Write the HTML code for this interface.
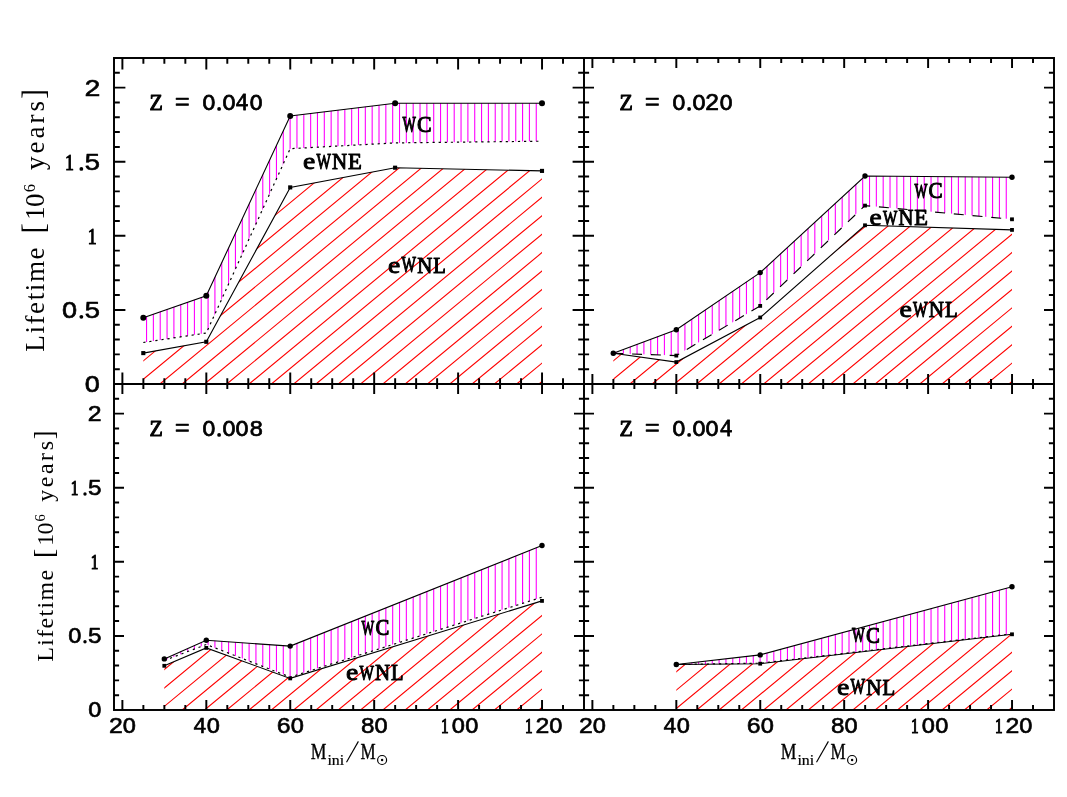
<!DOCTYPE html>
<html><head><meta charset="utf-8"><title>WR lifetimes</title>
<style>html,body{margin:0;padding:0;background:#fff}body{width:1067px;height:797px;overflow:hidden;font-family:"Liberation Serif",serif}svg{display:block}</style>
</head><body>
<svg width="1067" height="797" viewBox="0 0 1067 797">
<rect width="1067" height="797" fill="#fff"/>
<defs>
<clipPath id="cm1"><polygon points="143.3,317.7 206.3,295.7 290.2,116.0 395.1,103.3 542.0,103.3 542.0,141.2 395.1,142.9 290.2,148.7 206.3,333.0 143.3,342.5"/></clipPath>
<clipPath id="cr1"><polygon points="143.3,353.1 206.3,341.8 290.2,187.4 395.1,167.7 542.0,170.9 542.0,384.0 143.3,384.0"/></clipPath>
<clipPath id="cm2"><polygon points="613.3,353.3 676.3,329.7 760.2,272.6 865.0,176.0 1012.0,177.2 1012.0,219.3 865.0,205.6 760.2,305.9 676.3,355.6 613.3,353.3"/></clipPath>
<clipPath id="cr2"><polygon points="613.3,353.3 676.3,362.1 760.2,317.5 865.0,225.3 1012.0,229.9 1012.0,384.0 613.3,384.0"/></clipPath>
<clipPath id="cm3"><polygon points="164.3,658.9 206.3,640.3 290.2,646.1 542.0,545.5 542.0,597.2 290.2,677.1 206.3,644.5 164.3,660.5"/></clipPath>
<clipPath id="cr3"><polygon points="164.3,665.8 206.3,647.9 290.2,678.4 542.0,600.9 542.0,710.0 164.3,710.0"/></clipPath>
<clipPath id="cm4"><polygon points="676.3,664.5 760.2,654.9 1012.0,586.7 1012.0,633.8 760.2,663.2 676.3,664.5"/></clipPath>
<clipPath id="cr4"><polygon points="676.3,664.5 760.2,663.7 1012.0,634.3 1012.0,710.0 676.3,710.0"/></clipPath>
</defs>
<g>
<path clip-path="url(#cr1)" d="M-330.70 384.00L80.92 44.00M-308.40 384.00L103.22 44.00M-286.10 384.00L125.52 44.00M-263.80 384.00L147.82 44.00M-241.50 384.00L170.12 44.00M-219.20 384.00L192.42 44.00M-196.90 384.00L214.72 44.00M-174.60 384.00L237.02 44.00M-152.30 384.00L259.32 44.00M-130.00 384.00L281.62 44.00M-107.70 384.00L303.92 44.00M-85.40 384.00L326.22 44.00M-63.10 384.00L348.52 44.00M-40.80 384.00L370.82 44.00M-18.50 384.00L393.12 44.00M3.80 384.00L415.42 44.00M26.10 384.00L437.72 44.00M48.40 384.00L460.02 44.00M70.70 384.00L482.32 44.00M93.00 384.00L504.62 44.00M115.30 384.00L526.92 44.00M137.60 384.00L549.22 44.00M159.90 384.00L571.52 44.00M182.20 384.00L593.82 44.00M204.50 384.00L616.12 44.00M226.80 384.00L638.42 44.00M249.10 384.00L660.72 44.00M271.40 384.00L683.02 44.00M293.70 384.00L705.32 44.00M316.00 384.00L727.62 44.00M338.30 384.00L749.92 44.00M360.60 384.00L772.22 44.00M382.90 384.00L794.52 44.00M405.20 384.00L816.82 44.00M427.50 384.00L839.12 44.00M449.80 384.00L861.42 44.00M472.10 384.00L883.72 44.00M494.40 384.00L906.02 44.00M516.70 384.00L928.32 44.00M539.00 384.00L950.62 44.00M561.30 384.00L972.92 44.00M583.60 384.00L995.22 44.00M605.90 384.00L1017.52 44.00M628.20 384.00L1039.82 44.00M650.50 384.00L1062.12 44.00" stroke="#ff0000" stroke-width="1.1" fill="none"/>
<path clip-path="url(#cm1)" d="M119.20 58V384M126.04 58V384M132.87 58V384M139.71 58V384M146.55 58V384M153.38 58V384M160.22 58V384M167.06 58V384M173.90 58V384M180.73 58V384M187.57 58V384M194.41 58V384M201.24 58V384M208.08 58V384M214.92 58V384M221.75 58V384M228.59 58V384M235.43 58V384M242.27 58V384M249.10 58V384M255.94 58V384M262.78 58V384M269.61 58V384M276.45 58V384M283.29 58V384M290.12 58V384M296.96 58V384M303.80 58V384M310.64 58V384M317.47 58V384M324.31 58V384M331.15 58V384M337.98 58V384M344.82 58V384M351.66 58V384M358.50 58V384M365.33 58V384M372.17 58V384M379.01 58V384M385.84 58V384M392.68 58V384M399.52 58V384M406.35 58V384M413.19 58V384M420.03 58V384M426.86 58V384M433.70 58V384M440.54 58V384M447.38 58V384M454.21 58V384M461.05 58V384M467.89 58V384M474.72 58V384M481.56 58V384M488.40 58V384M495.23 58V384M502.07 58V384M508.91 58V384M515.75 58V384M522.58 58V384M529.42 58V384M536.26 58V384M543.09 58V384M549.93 58V384M556.77 58V384M563.61 58V384M570.44 58V384M577.28 58V384M584.12 58V384M590.95 58V384" stroke="#ff00ff" stroke-width="1.1" fill="none"/>
<path clip-path="url(#cr2)" d="M139.30 384.00L550.92 44.00M161.60 384.00L573.22 44.00M183.90 384.00L595.52 44.00M206.20 384.00L617.82 44.00M228.50 384.00L640.12 44.00M250.80 384.00L662.42 44.00M273.10 384.00L684.72 44.00M295.40 384.00L707.02 44.00M317.70 384.00L729.32 44.00M340.00 384.00L751.62 44.00M362.30 384.00L773.92 44.00M384.60 384.00L796.22 44.00M406.90 384.00L818.52 44.00M429.20 384.00L840.82 44.00M451.50 384.00L863.12 44.00M473.80 384.00L885.42 44.00M496.10 384.00L907.72 44.00M518.40 384.00L930.02 44.00M540.70 384.00L952.32 44.00M563.00 384.00L974.62 44.00M585.30 384.00L996.92 44.00M607.60 384.00L1019.22 44.00M629.90 384.00L1041.52 44.00M652.20 384.00L1063.82 44.00M674.50 384.00L1086.12 44.00M696.80 384.00L1108.42 44.00M719.10 384.00L1130.72 44.00M741.40 384.00L1153.02 44.00M763.70 384.00L1175.32 44.00M786.00 384.00L1197.62 44.00M808.30 384.00L1219.92 44.00M830.60 384.00L1242.22 44.00M852.90 384.00L1264.52 44.00M875.20 384.00L1286.82 44.00M897.50 384.00L1309.12 44.00M919.80 384.00L1331.42 44.00M942.10 384.00L1353.72 44.00M964.40 384.00L1376.02 44.00M986.70 384.00L1398.32 44.00M1009.00 384.00L1420.62 44.00M1031.30 384.00L1442.92 44.00M1053.60 384.00L1465.22 44.00M1075.90 384.00L1487.52 44.00M1098.20 384.00L1509.82 44.00M1120.50 384.00L1532.12 44.00" stroke="#ff0000" stroke-width="1.1" fill="none"/>
<path clip-path="url(#cm2)" d="M589.20 58V384M596.04 58V384M602.87 58V384M609.71 58V384M616.55 58V384M623.38 58V384M630.22 58V384M637.06 58V384M643.90 58V384M650.73 58V384M657.57 58V384M664.41 58V384M671.24 58V384M678.08 58V384M684.92 58V384M691.75 58V384M698.59 58V384M705.43 58V384M712.27 58V384M719.10 58V384M725.94 58V384M732.78 58V384M739.61 58V384M746.45 58V384M753.29 58V384M760.12 58V384M766.96 58V384M773.80 58V384M780.64 58V384M787.47 58V384M794.31 58V384M801.15 58V384M807.98 58V384M814.82 58V384M821.66 58V384M828.50 58V384M835.33 58V384M842.17 58V384M849.01 58V384M855.84 58V384M862.68 58V384M869.52 58V384M876.35 58V384M883.19 58V384M890.03 58V384M896.87 58V384M903.70 58V384M910.54 58V384M917.38 58V384M924.21 58V384M931.05 58V384M937.89 58V384M944.72 58V384M951.56 58V384M958.40 58V384M965.24 58V384M972.07 58V384M978.91 58V384M985.75 58V384M992.58 58V384M999.42 58V384M1006.26 58V384M1013.09 58V384M1019.93 58V384M1026.77 58V384M1033.61 58V384M1040.44 58V384M1047.28 58V384M1054.12 58V384M1060.95 58V384" stroke="#ff00ff" stroke-width="1.1" fill="none"/>
<path clip-path="url(#cr3)" d="M-330.70 710.00L80.92 370.00M-308.40 710.00L103.22 370.00M-286.10 710.00L125.52 370.00M-263.80 710.00L147.82 370.00M-241.50 710.00L170.12 370.00M-219.20 710.00L192.42 370.00M-196.90 710.00L214.72 370.00M-174.60 710.00L237.02 370.00M-152.30 710.00L259.32 370.00M-130.00 710.00L281.62 370.00M-107.70 710.00L303.92 370.00M-85.40 710.00L326.22 370.00M-63.10 710.00L348.52 370.00M-40.80 710.00L370.82 370.00M-18.50 710.00L393.12 370.00M3.80 710.00L415.42 370.00M26.10 710.00L437.72 370.00M48.40 710.00L460.02 370.00M70.70 710.00L482.32 370.00M93.00 710.00L504.62 370.00M115.30 710.00L526.92 370.00M137.60 710.00L549.22 370.00M159.90 710.00L571.52 370.00M182.20 710.00L593.82 370.00M204.50 710.00L616.12 370.00M226.80 710.00L638.42 370.00M249.10 710.00L660.72 370.00M271.40 710.00L683.02 370.00M293.70 710.00L705.32 370.00M316.00 710.00L727.62 370.00M338.30 710.00L749.92 370.00M360.60 710.00L772.22 370.00M382.90 710.00L794.52 370.00M405.20 710.00L816.82 370.00M427.50 710.00L839.12 370.00M449.80 710.00L861.42 370.00M472.10 710.00L883.72 370.00M494.40 710.00L906.02 370.00M516.70 710.00L928.32 370.00M539.00 710.00L950.62 370.00M561.30 710.00L972.92 370.00M583.60 710.00L995.22 370.00M605.90 710.00L1017.52 370.00M628.20 710.00L1039.82 370.00M650.50 710.00L1062.12 370.00" stroke="#ff0000" stroke-width="1.1" fill="none"/>
<path clip-path="url(#cm3)" d="M119.20 384V710M126.04 384V710M132.87 384V710M139.71 384V710M146.55 384V710M153.38 384V710M160.22 384V710M167.06 384V710M173.90 384V710M180.73 384V710M187.57 384V710M194.41 384V710M201.24 384V710M208.08 384V710M214.92 384V710M221.75 384V710M228.59 384V710M235.43 384V710M242.27 384V710M249.10 384V710M255.94 384V710M262.78 384V710M269.61 384V710M276.45 384V710M283.29 384V710M290.12 384V710M296.96 384V710M303.80 384V710M310.64 384V710M317.47 384V710M324.31 384V710M331.15 384V710M337.98 384V710M344.82 384V710M351.66 384V710M358.50 384V710M365.33 384V710M372.17 384V710M379.01 384V710M385.84 384V710M392.68 384V710M399.52 384V710M406.35 384V710M413.19 384V710M420.03 384V710M426.86 384V710M433.70 384V710M440.54 384V710M447.38 384V710M454.21 384V710M461.05 384V710M467.89 384V710M474.72 384V710M481.56 384V710M488.40 384V710M495.23 384V710M502.07 384V710M508.91 384V710M515.75 384V710M522.58 384V710M529.42 384V710M536.26 384V710M543.09 384V710M549.93 384V710M556.77 384V710M563.61 384V710M570.44 384V710M577.28 384V710M584.12 384V710M590.95 384V710" stroke="#ff00ff" stroke-width="1.1" fill="none"/>
<path clip-path="url(#cr4)" d="M139.30 710.00L550.92 370.00M161.60 710.00L573.22 370.00M183.90 710.00L595.52 370.00M206.20 710.00L617.82 370.00M228.50 710.00L640.12 370.00M250.80 710.00L662.42 370.00M273.10 710.00L684.72 370.00M295.40 710.00L707.02 370.00M317.70 710.00L729.32 370.00M340.00 710.00L751.62 370.00M362.30 710.00L773.92 370.00M384.60 710.00L796.22 370.00M406.90 710.00L818.52 370.00M429.20 710.00L840.82 370.00M451.50 710.00L863.12 370.00M473.80 710.00L885.42 370.00M496.10 710.00L907.72 370.00M518.40 710.00L930.02 370.00M540.70 710.00L952.32 370.00M563.00 710.00L974.62 370.00M585.30 710.00L996.92 370.00M607.60 710.00L1019.22 370.00M629.90 710.00L1041.52 370.00M652.20 710.00L1063.82 370.00M674.50 710.00L1086.12 370.00M696.80 710.00L1108.42 370.00M719.10 710.00L1130.72 370.00M741.40 710.00L1153.02 370.00M763.70 710.00L1175.32 370.00M786.00 710.00L1197.62 370.00M808.30 710.00L1219.92 370.00M830.60 710.00L1242.22 370.00M852.90 710.00L1264.52 370.00M875.20 710.00L1286.82 370.00M897.50 710.00L1309.12 370.00M919.80 710.00L1331.42 370.00M942.10 710.00L1353.72 370.00M964.40 710.00L1376.02 370.00M986.70 710.00L1398.32 370.00M1009.00 710.00L1420.62 370.00M1031.30 710.00L1442.92 370.00M1053.60 710.00L1465.22 370.00M1075.90 710.00L1487.52 370.00M1098.20 710.00L1509.82 370.00M1120.50 710.00L1532.12 370.00" stroke="#ff0000" stroke-width="1.1" fill="none"/>
<path clip-path="url(#cm4)" d="M589.20 384V710M596.04 384V710M602.87 384V710M609.71 384V710M616.55 384V710M623.38 384V710M630.22 384V710M637.06 384V710M643.90 384V710M650.73 384V710M657.57 384V710M664.41 384V710M671.24 384V710M678.08 384V710M684.92 384V710M691.75 384V710M698.59 384V710M705.43 384V710M712.27 384V710M719.10 384V710M725.94 384V710M732.78 384V710M739.61 384V710M746.45 384V710M753.29 384V710M760.12 384V710M766.96 384V710M773.80 384V710M780.64 384V710M787.47 384V710M794.31 384V710M801.15 384V710M807.98 384V710M814.82 384V710M821.66 384V710M828.50 384V710M835.33 384V710M842.17 384V710M849.01 384V710M855.84 384V710M862.68 384V710M869.52 384V710M876.35 384V710M883.19 384V710M890.03 384V710M896.87 384V710M903.70 384V710M910.54 384V710M917.38 384V710M924.21 384V710M931.05 384V710M937.89 384V710M944.72 384V710M951.56 384V710M958.40 384V710M965.24 384V710M972.07 384V710M978.91 384V710M985.75 384V710M992.58 384V710M999.42 384V710M1006.26 384V710M1013.09 384V710M1019.93 384V710M1026.77 384V710M1033.61 384V710M1040.44 384V710M1047.28 384V710M1054.12 384V710M1060.95 384V710" stroke="#ff00ff" stroke-width="1.1" fill="none"/>
<polyline points="143.3,353.1 206.3,341.8 290.2,187.4 395.1,167.7 542.0,170.9" fill="none" stroke="#000" stroke-width="1.1"/>
<polyline points="143.3,342.5 206.3,333.0 290.2,148.7 395.1,142.9 542.0,141.2" fill="none" stroke="#000" stroke-width="1.2" stroke-dasharray="2.2 3.9"/>
<polyline points="143.3,317.7 206.3,295.7 290.2,116.0 395.1,103.3 542.0,103.3" fill="none" stroke="#000" stroke-width="1.1"/>
<circle cx="143.3" cy="317.7" r="3.0"/>
<circle cx="206.3" cy="295.7" r="3.0"/>
<circle cx="290.2" cy="116.0" r="3.0"/>
<circle cx="395.1" cy="103.3" r="3.0"/>
<circle cx="542.0" cy="103.3" r="3.0"/>
<rect x="141.25" y="351.05" width="4.1" height="4.1"/>
<rect x="204.25" y="339.75" width="4.1" height="4.1"/>
<rect x="288.15" y="185.35" width="4.1" height="4.1"/>
<rect x="393.05" y="165.65" width="4.1" height="4.1"/>
<rect x="539.95" y="168.85" width="4.1" height="4.1"/>
<polyline points="613.3,353.3 676.3,362.1 760.2,317.5 865.0,225.3 1012.0,229.9" fill="none" stroke="#000" stroke-width="1.1"/>
<polyline points="613.3,353.3 676.3,355.6 760.2,305.9 865.0,205.6 1012.0,219.3" fill="none" stroke="#000" stroke-width="1.1" stroke-dasharray="10 8.8" stroke-dashoffset="0"/>
<polyline points="613.3,353.3 676.3,329.7 760.2,272.6 865.0,176.0 1012.0,177.2" fill="none" stroke="#000" stroke-width="1.1"/>
<circle cx="613.3" cy="353.3" r="2.7"/>
<circle cx="676.3" cy="329.7" r="2.7"/>
<circle cx="760.2" cy="272.6" r="2.7"/>
<circle cx="865.0" cy="176.0" r="2.7"/>
<circle cx="1012.0" cy="177.2" r="2.7"/>
<rect x="611.40" y="351.40" width="3.8" height="3.8"/>
<rect x="674.40" y="360.20" width="3.8" height="3.8"/>
<rect x="758.30" y="315.60" width="3.8" height="3.8"/>
<rect x="863.10" y="223.40" width="3.8" height="3.8"/>
<rect x="1010.10" y="228.00" width="3.8" height="3.8"/>
<rect x="674.40" y="353.70" width="3.8" height="3.8"/>
<rect x="758.30" y="304.00" width="3.8" height="3.8"/>
<rect x="863.10" y="203.70" width="3.8" height="3.8"/>
<rect x="1010.10" y="217.40" width="3.8" height="3.8"/>
<polyline points="164.3,665.8 206.3,647.9 290.2,678.4 542.0,600.9" fill="none" stroke="#000" stroke-width="1.1"/>
<polyline points="164.3,660.5 206.3,644.5 290.2,677.1 542.0,597.2" fill="none" stroke="#000" stroke-width="1.2" stroke-dasharray="2.2 3.9"/>
<polyline points="164.3,658.9 206.3,640.3 290.2,646.1 542.0,545.5" fill="none" stroke="#000" stroke-width="1.1"/>
<circle cx="164.3" cy="658.9" r="2.7"/>
<circle cx="206.3" cy="640.3" r="2.7"/>
<circle cx="290.2" cy="646.1" r="2.7"/>
<circle cx="542.0" cy="545.5" r="2.7"/>
<rect x="162.40" y="663.90" width="3.8" height="3.8"/>
<rect x="204.40" y="646.00" width="3.8" height="3.8"/>
<rect x="288.30" y="676.50" width="3.8" height="3.8"/>
<rect x="540.10" y="599.00" width="3.8" height="3.8"/>
<polyline points="676.3,664.5 760.2,663.7 1012.0,634.3" fill="none" stroke="#000" stroke-width="1.1"/>
<polyline points="676.3,664.5 760.2,663.2 1012.0,633.8" fill="none" stroke="#000" stroke-width="1.2" stroke-dasharray="2.2 3.9"/>
<polyline points="676.3,664.5 760.2,654.9 1012.0,586.7" fill="none" stroke="#000" stroke-width="1.1"/>
<circle cx="676.3" cy="664.5" r="2.7"/>
<circle cx="760.2" cy="654.9" r="2.7"/>
<circle cx="1012.0" cy="586.7" r="2.7"/>
<rect x="674.40" y="662.60" width="3.8" height="3.8"/>
<rect x="758.30" y="661.80" width="3.8" height="3.8"/>
<rect x="1010.10" y="632.40" width="3.8" height="3.8"/>
</g>
<g>
<rect x="114.0" y="58.0" width="940.0" height="652.0" fill="none" stroke="#000" stroke-width="1.95"/>
<path d="M584.0 58.0V710.0M114.0 384.0H1054.0" stroke="#000" stroke-width="1.95" fill="none"/>
<path d="M122.39 384.0v-11.4M122.39 58.0v11.4M143.38 384.0v-5.8M143.38 58.0v5.8M164.36 384.0v-5.8M164.36 58.0v5.8M185.34 384.0v-5.8M185.34 58.0v5.8M206.32 384.0v-11.4M206.32 58.0v11.4M227.30 384.0v-5.8M227.30 58.0v5.8M248.29 384.0v-5.8M248.29 58.0v5.8M269.27 384.0v-5.8M269.27 58.0v5.8M290.25 384.0v-11.4M290.25 58.0v11.4M311.23 384.0v-5.8M311.23 58.0v5.8M332.21 384.0v-5.8M332.21 58.0v5.8M353.20 384.0v-5.8M353.20 58.0v5.8M374.18 384.0v-11.4M374.18 58.0v11.4M395.16 384.0v-5.8M395.16 58.0v5.8M416.14 384.0v-5.8M416.14 58.0v5.8M437.12 384.0v-5.8M437.12 58.0v5.8M458.11 384.0v-11.4M458.11 58.0v11.4M479.09 384.0v-5.8M479.09 58.0v5.8M500.07 384.0v-5.8M500.07 58.0v5.8M521.05 384.0v-5.8M521.05 58.0v5.8M542.04 384.0v-11.4M542.04 58.0v11.4M563.02 384.0v-5.8M563.02 58.0v5.8M114.0 369.18h5.8M584.0 369.18h-5.8M114.0 354.36h5.8M584.0 354.36h-5.8M114.0 339.55h5.8M584.0 339.55h-5.8M114.0 324.73h5.8M584.0 324.73h-5.8M114.0 309.91h11.4M584.0 309.91h-11.4M114.0 295.09h5.8M584.0 295.09h-5.8M114.0 280.27h5.8M584.0 280.27h-5.8M114.0 265.45h5.8M584.0 265.45h-5.8M114.0 250.64h5.8M584.0 250.64h-5.8M114.0 235.82h11.4M584.0 235.82h-11.4M114.0 221.00h5.8M584.0 221.00h-5.8M114.0 206.18h5.8M584.0 206.18h-5.8M114.0 191.36h5.8M584.0 191.36h-5.8M114.0 176.55h5.8M584.0 176.55h-5.8M114.0 161.73h11.4M584.0 161.73h-11.4M114.0 146.91h5.8M584.0 146.91h-5.8M114.0 132.09h5.8M584.0 132.09h-5.8M114.0 117.27h5.8M584.0 117.27h-5.8M114.0 102.45h5.8M584.0 102.45h-5.8M114.0 87.64h11.4M584.0 87.64h-11.4M114.0 72.82h5.8M584.0 72.82h-5.8M592.39 384.0v-10M592.39 58.0v10M613.38 384.0v-5.1M613.38 58.0v5.1M634.36 384.0v-5.1M634.36 58.0v5.1M655.34 384.0v-5.1M655.34 58.0v5.1M676.32 384.0v-10M676.32 58.0v10M697.30 384.0v-5.1M697.30 58.0v5.1M718.29 384.0v-5.1M718.29 58.0v5.1M739.27 384.0v-5.1M739.27 58.0v5.1M760.25 384.0v-10M760.25 58.0v10M781.23 384.0v-5.1M781.23 58.0v5.1M802.21 384.0v-5.1M802.21 58.0v5.1M823.20 384.0v-5.1M823.20 58.0v5.1M844.18 384.0v-10M844.18 58.0v10M865.16 384.0v-5.1M865.16 58.0v5.1M886.14 384.0v-5.1M886.14 58.0v5.1M907.12 384.0v-5.1M907.12 58.0v5.1M928.11 384.0v-10M928.11 58.0v10M949.09 384.0v-5.1M949.09 58.0v5.1M970.07 384.0v-5.1M970.07 58.0v5.1M991.05 384.0v-5.1M991.05 58.0v5.1M1012.04 384.0v-10M1012.04 58.0v10M1033.02 384.0v-5.1M1033.02 58.0v5.1M584.0 369.18h5.1M1054.0 369.18h-5.1M584.0 354.36h5.1M1054.0 354.36h-5.1M584.0 339.55h5.1M1054.0 339.55h-5.1M584.0 324.73h5.1M1054.0 324.73h-5.1M584.0 309.91h10M1054.0 309.91h-10M584.0 295.09h5.1M1054.0 295.09h-5.1M584.0 280.27h5.1M1054.0 280.27h-5.1M584.0 265.45h5.1M1054.0 265.45h-5.1M584.0 250.64h5.1M1054.0 250.64h-5.1M584.0 235.82h10M1054.0 235.82h-10M584.0 221.00h5.1M1054.0 221.00h-5.1M584.0 206.18h5.1M1054.0 206.18h-5.1M584.0 191.36h5.1M1054.0 191.36h-5.1M584.0 176.55h5.1M1054.0 176.55h-5.1M584.0 161.73h10M1054.0 161.73h-10M584.0 146.91h5.1M1054.0 146.91h-5.1M584.0 132.09h5.1M1054.0 132.09h-5.1M584.0 117.27h5.1M1054.0 117.27h-5.1M584.0 102.45h5.1M1054.0 102.45h-5.1M584.0 87.64h10M1054.0 87.64h-10M584.0 72.82h5.1M1054.0 72.82h-5.1M122.39 710.0v-10M122.39 384.0v10M143.38 710.0v-5.1M143.38 384.0v5.1M164.36 710.0v-5.1M164.36 384.0v5.1M185.34 710.0v-5.1M185.34 384.0v5.1M206.32 710.0v-10M206.32 384.0v10M227.30 710.0v-5.1M227.30 384.0v5.1M248.29 710.0v-5.1M248.29 384.0v5.1M269.27 710.0v-5.1M269.27 384.0v5.1M290.25 710.0v-10M290.25 384.0v10M311.23 710.0v-5.1M311.23 384.0v5.1M332.21 710.0v-5.1M332.21 384.0v5.1M353.20 710.0v-5.1M353.20 384.0v5.1M374.18 710.0v-10M374.18 384.0v10M395.16 710.0v-5.1M395.16 384.0v5.1M416.14 710.0v-5.1M416.14 384.0v5.1M437.12 710.0v-5.1M437.12 384.0v5.1M458.11 710.0v-10M458.11 384.0v10M479.09 710.0v-5.1M479.09 384.0v5.1M500.07 710.0v-5.1M500.07 384.0v5.1M521.05 710.0v-5.1M521.05 384.0v5.1M542.04 710.0v-10M542.04 384.0v10M563.02 710.0v-5.1M563.02 384.0v5.1M114.0 695.18h5.1M584.0 695.18h-5.1M114.0 680.36h5.1M584.0 680.36h-5.1M114.0 665.55h5.1M584.0 665.55h-5.1M114.0 650.73h5.1M584.0 650.73h-5.1M114.0 635.91h10M584.0 635.91h-10M114.0 621.09h5.1M584.0 621.09h-5.1M114.0 606.27h5.1M584.0 606.27h-5.1M114.0 591.45h5.1M584.0 591.45h-5.1M114.0 576.64h5.1M584.0 576.64h-5.1M114.0 561.82h10M584.0 561.82h-10M114.0 547.00h5.1M584.0 547.00h-5.1M114.0 532.18h5.1M584.0 532.18h-5.1M114.0 517.36h5.1M584.0 517.36h-5.1M114.0 502.55h5.1M584.0 502.55h-5.1M114.0 487.73h10M584.0 487.73h-10M114.0 472.91h5.1M584.0 472.91h-5.1M114.0 458.09h5.1M584.0 458.09h-5.1M114.0 443.27h5.1M584.0 443.27h-5.1M114.0 428.45h5.1M584.0 428.45h-5.1M114.0 413.64h10M584.0 413.64h-10M114.0 398.82h5.1M584.0 398.82h-5.1M592.39 710.0v-10M592.39 384.0v10M613.38 710.0v-5.1M613.38 384.0v5.1M634.36 710.0v-5.1M634.36 384.0v5.1M655.34 710.0v-5.1M655.34 384.0v5.1M676.32 710.0v-10M676.32 384.0v10M697.30 710.0v-5.1M697.30 384.0v5.1M718.29 710.0v-5.1M718.29 384.0v5.1M739.27 710.0v-5.1M739.27 384.0v5.1M760.25 710.0v-10M760.25 384.0v10M781.23 710.0v-5.1M781.23 384.0v5.1M802.21 710.0v-5.1M802.21 384.0v5.1M823.20 710.0v-5.1M823.20 384.0v5.1M844.18 710.0v-10M844.18 384.0v10M865.16 710.0v-5.1M865.16 384.0v5.1M886.14 710.0v-5.1M886.14 384.0v5.1M907.12 710.0v-5.1M907.12 384.0v5.1M928.11 710.0v-10M928.11 384.0v10M949.09 710.0v-5.1M949.09 384.0v5.1M970.07 710.0v-5.1M970.07 384.0v5.1M991.05 710.0v-5.1M991.05 384.0v5.1M1012.04 710.0v-10M1012.04 384.0v10M1033.02 710.0v-5.1M1033.02 384.0v5.1M584.0 695.18h5.1M1054.0 695.18h-5.1M584.0 680.36h5.1M1054.0 680.36h-5.1M584.0 665.55h5.1M1054.0 665.55h-5.1M584.0 650.73h5.1M1054.0 650.73h-5.1M584.0 635.91h10M1054.0 635.91h-10M584.0 621.09h5.1M1054.0 621.09h-5.1M584.0 606.27h5.1M1054.0 606.27h-5.1M584.0 591.45h5.1M1054.0 591.45h-5.1M584.0 576.64h5.1M1054.0 576.64h-5.1M584.0 561.82h10M1054.0 561.82h-10M584.0 547.00h5.1M1054.0 547.00h-5.1M584.0 532.18h5.1M1054.0 532.18h-5.1M584.0 517.36h5.1M1054.0 517.36h-5.1M584.0 502.55h5.1M1054.0 502.55h-5.1M584.0 487.73h10M1054.0 487.73h-10M584.0 472.91h5.1M1054.0 472.91h-5.1M584.0 458.09h5.1M1054.0 458.09h-5.1M584.0 443.27h5.1M1054.0 443.27h-5.1M584.0 428.45h5.1M1054.0 428.45h-5.1M584.0 413.64h10M1054.0 413.64h-10M584.0 398.82h5.1M1054.0 398.82h-5.1" stroke="#000" stroke-width="1.95" fill="none"/>
</g>
<g opacity="0.999">
<text transform="matrix(1.1647 0 0 1 83.90 95.97)" font-family="Liberation Mono" font-weight="normal" font-size="24.25" fill="#000" stroke="#000" stroke-width="0.65" vector-effect="non-scaling-stroke" stroke-linejoin="round">2</text>
<text transform="matrix(0.7503 0 0 1 64.92 170.12)" font-family="Liberation Serif" font-weight="normal" font-size="23.71" fill="#000" stroke="#000" stroke-width="1.05" vector-effect="non-scaling-stroke" stroke-linejoin="round">1</text>
<circle cx="81.35" cy="168.93" r="1.93"/>
<text transform="matrix(1.1399 0 0 1 84.08 170.18)" font-family="Liberation Mono" font-weight="normal" font-size="24.25" fill="#000" stroke="#000" stroke-width="0.65" vector-effect="non-scaling-stroke" stroke-linejoin="round">5</text>
<text transform="matrix(0.7503 0 0 1 87.66 244.22)" font-family="Liberation Serif" font-weight="normal" font-size="23.71" fill="#000" stroke="#000" stroke-width="1.05" vector-effect="non-scaling-stroke" stroke-linejoin="round">1</text>
<text transform="matrix(1.0875 0 0 1 61.84 318.09)" font-family="Liberation Mono" font-weight="normal" font-size="23.90" fill="#000" stroke="#000" stroke-width="0.65" vector-effect="non-scaling-stroke" stroke-linejoin="round">O</text>
<circle cx="81.35" cy="316.83" r="1.93"/>
<text transform="matrix(1.1399 0 0 1 84.08 318.08)" font-family="Liberation Mono" font-weight="normal" font-size="24.25" fill="#000" stroke="#000" stroke-width="0.65" vector-effect="non-scaling-stroke" stroke-linejoin="round">5</text>
<text transform="matrix(1.0875 0 0 1 84.58 391.99)" font-family="Liberation Mono" font-weight="normal" font-size="23.90" fill="#000" stroke="#000" stroke-width="0.65" vector-effect="non-scaling-stroke" stroke-linejoin="round">O</text>
<text transform="matrix(1.1284 0 0 1 87.30 421.02)" font-family="Liberation Mono" font-weight="normal" font-size="21.87" fill="#000" stroke="#000" stroke-width="0.65" vector-effect="non-scaling-stroke" stroke-linejoin="round">2</text>
<text transform="matrix(0.7180 0 0 1 70.65 495.02)" font-family="Liberation Serif" font-weight="normal" font-size="21.29" fill="#000" stroke="#000" stroke-width="1.05" vector-effect="non-scaling-stroke" stroke-linejoin="round">1</text>
<circle cx="85.00" cy="494.05" r="1.70"/>
<text transform="matrix(1.1044 0 0 1 87.46 495.11)" font-family="Liberation Mono" font-weight="normal" font-size="21.87" fill="#000" stroke="#000" stroke-width="0.65" vector-effect="non-scaling-stroke" stroke-linejoin="round">5</text>
<text transform="matrix(0.7180 0 0 1 90.65 569.02)" font-family="Liberation Serif" font-weight="normal" font-size="21.29" fill="#000" stroke="#000" stroke-width="1.05" vector-effect="non-scaling-stroke" stroke-linejoin="round">1</text>
<text transform="matrix(1.0537 0 0 1 67.89 642.81)" font-family="Liberation Mono" font-weight="normal" font-size="21.54" fill="#000" stroke="#000" stroke-width="0.65" vector-effect="non-scaling-stroke" stroke-linejoin="round">O</text>
<circle cx="85.00" cy="641.75" r="1.70"/>
<text transform="matrix(1.1044 0 0 1 87.46 642.81)" font-family="Liberation Mono" font-weight="normal" font-size="21.87" fill="#000" stroke="#000" stroke-width="0.65" vector-effect="non-scaling-stroke" stroke-linejoin="round">5</text>
<text transform="matrix(1.0537 0 0 1 87.89 717.11)" font-family="Liberation Mono" font-weight="normal" font-size="21.54" fill="#000" stroke="#000" stroke-width="0.65" vector-effect="non-scaling-stroke" stroke-linejoin="round">O</text>
<text transform="matrix(1.0984 0 0 1 108.59 732.88)" font-family="Liberation Mono" font-weight="normal" font-size="22.46" fill="#000" stroke="#000" stroke-width="0.65" vector-effect="non-scaling-stroke" stroke-linejoin="round">2</text>
<text transform="matrix(1.0256 0 0 1 122.58 732.65)" font-family="Liberation Mono" font-weight="normal" font-size="22.13" fill="#000" stroke="#000" stroke-width="0.65" vector-effect="non-scaling-stroke" stroke-linejoin="round">O</text>
<text transform="matrix(0.9955 0 0 1 193.11 732.88)" font-family="Liberation Mono" font-weight="normal" font-size="22.80" fill="#000" stroke="#000" stroke-width="0.65" vector-effect="non-scaling-stroke" stroke-linejoin="round">4</text>
<text transform="matrix(1.0256 0 0 1 206.51 732.65)" font-family="Liberation Mono" font-weight="normal" font-size="22.13" fill="#000" stroke="#000" stroke-width="0.65" vector-effect="non-scaling-stroke" stroke-linejoin="round">O</text>
<text transform="matrix(1.1148 0 0 1 276.32 732.65)" font-family="Liberation Mono" font-weight="normal" font-size="22.13" fill="#000" stroke="#000" stroke-width="0.65" vector-effect="non-scaling-stroke" stroke-linejoin="round">6</text>
<text transform="matrix(1.0256 0 0 1 290.44 732.65)" font-family="Liberation Mono" font-weight="normal" font-size="22.13" fill="#000" stroke="#000" stroke-width="0.65" vector-effect="non-scaling-stroke" stroke-linejoin="round">O</text>
<text transform="matrix(1.0911 0 0 1 360.53 732.65)" font-family="Liberation Mono" font-weight="normal" font-size="22.13" fill="#000" stroke="#000" stroke-width="0.65" vector-effect="non-scaling-stroke" stroke-linejoin="round">8</text>
<text transform="matrix(1.0256 0 0 1 374.37 732.65)" font-family="Liberation Mono" font-weight="normal" font-size="22.13" fill="#000" stroke="#000" stroke-width="0.65" vector-effect="non-scaling-stroke" stroke-linejoin="round">O</text>
<text transform="matrix(0.6982 0 0 1 440.96 732.58)" font-family="Liberation Serif" font-weight="normal" font-size="21.89" fill="#000" stroke="#000" stroke-width="1.05" vector-effect="non-scaling-stroke" stroke-linejoin="round">1</text>
<text transform="matrix(1.0256 0 0 1 451.60 732.65)" font-family="Liberation Mono" font-weight="normal" font-size="22.13" fill="#000" stroke="#000" stroke-width="0.65" vector-effect="non-scaling-stroke" stroke-linejoin="round">O</text>
<text transform="matrix(1.0256 0 0 1 465.00 732.65)" font-family="Liberation Mono" font-weight="normal" font-size="22.13" fill="#000" stroke="#000" stroke-width="0.65" vector-effect="non-scaling-stroke" stroke-linejoin="round">O</text>
<text transform="matrix(0.6982 0 0 1 524.88 732.58)" font-family="Liberation Serif" font-weight="normal" font-size="21.89" fill="#000" stroke="#000" stroke-width="1.05" vector-effect="non-scaling-stroke" stroke-linejoin="round">1</text>
<text transform="matrix(1.0984 0 0 1 534.93 732.88)" font-family="Liberation Mono" font-weight="normal" font-size="22.46" fill="#000" stroke="#000" stroke-width="0.65" vector-effect="non-scaling-stroke" stroke-linejoin="round">2</text>
<text transform="matrix(1.0256 0 0 1 548.93 732.65)" font-family="Liberation Mono" font-weight="normal" font-size="22.13" fill="#000" stroke="#000" stroke-width="0.65" vector-effect="non-scaling-stroke" stroke-linejoin="round">O</text>
<text transform="matrix(1.0984 0 0 1 578.59 732.88)" font-family="Liberation Mono" font-weight="normal" font-size="22.46" fill="#000" stroke="#000" stroke-width="0.65" vector-effect="non-scaling-stroke" stroke-linejoin="round">2</text>
<text transform="matrix(1.0256 0 0 1 592.58 732.65)" font-family="Liberation Mono" font-weight="normal" font-size="22.13" fill="#000" stroke="#000" stroke-width="0.65" vector-effect="non-scaling-stroke" stroke-linejoin="round">O</text>
<text transform="matrix(0.9955 0 0 1 663.11 732.88)" font-family="Liberation Mono" font-weight="normal" font-size="22.80" fill="#000" stroke="#000" stroke-width="0.65" vector-effect="non-scaling-stroke" stroke-linejoin="round">4</text>
<text transform="matrix(1.0256 0 0 1 676.51 732.65)" font-family="Liberation Mono" font-weight="normal" font-size="22.13" fill="#000" stroke="#000" stroke-width="0.65" vector-effect="non-scaling-stroke" stroke-linejoin="round">O</text>
<text transform="matrix(1.1148 0 0 1 746.32 732.65)" font-family="Liberation Mono" font-weight="normal" font-size="22.13" fill="#000" stroke="#000" stroke-width="0.65" vector-effect="non-scaling-stroke" stroke-linejoin="round">6</text>
<text transform="matrix(1.0256 0 0 1 760.44 732.65)" font-family="Liberation Mono" font-weight="normal" font-size="22.13" fill="#000" stroke="#000" stroke-width="0.65" vector-effect="non-scaling-stroke" stroke-linejoin="round">O</text>
<text transform="matrix(1.0911 0 0 1 830.53 732.65)" font-family="Liberation Mono" font-weight="normal" font-size="22.13" fill="#000" stroke="#000" stroke-width="0.65" vector-effect="non-scaling-stroke" stroke-linejoin="round">8</text>
<text transform="matrix(1.0256 0 0 1 844.37 732.65)" font-family="Liberation Mono" font-weight="normal" font-size="22.13" fill="#000" stroke="#000" stroke-width="0.65" vector-effect="non-scaling-stroke" stroke-linejoin="round">O</text>
<text transform="matrix(0.6982 0 0 1 910.96 732.58)" font-family="Liberation Serif" font-weight="normal" font-size="21.89" fill="#000" stroke="#000" stroke-width="1.05" vector-effect="non-scaling-stroke" stroke-linejoin="round">1</text>
<text transform="matrix(1.0256 0 0 1 921.60 732.65)" font-family="Liberation Mono" font-weight="normal" font-size="22.13" fill="#000" stroke="#000" stroke-width="0.65" vector-effect="non-scaling-stroke" stroke-linejoin="round">O</text>
<text transform="matrix(1.0256 0 0 1 935.00 732.65)" font-family="Liberation Mono" font-weight="normal" font-size="22.13" fill="#000" stroke="#000" stroke-width="0.65" vector-effect="non-scaling-stroke" stroke-linejoin="round">O</text>
<text transform="matrix(0.6982 0 0 1 994.88 732.58)" font-family="Liberation Serif" font-weight="normal" font-size="21.89" fill="#000" stroke="#000" stroke-width="1.05" vector-effect="non-scaling-stroke" stroke-linejoin="round">1</text>
<text transform="matrix(1.0984 0 0 1 1004.93 732.88)" font-family="Liberation Mono" font-weight="normal" font-size="22.46" fill="#000" stroke="#000" stroke-width="0.65" vector-effect="non-scaling-stroke" stroke-linejoin="round">2</text>
<text transform="matrix(1.0256 0 0 1 1018.93 732.65)" font-family="Liberation Mono" font-weight="normal" font-size="22.13" fill="#000" stroke="#000" stroke-width="0.65" vector-effect="non-scaling-stroke" stroke-linejoin="round">O</text>
<text transform="matrix(0.7532 0 0 1 310.85 758.73)" font-family="Liberation Serif" font-weight="normal" font-size="23.44" fill="#000" stroke="#000" stroke-width="0.35" vector-effect="non-scaling-stroke" stroke-linejoin="round">M</text>
<text transform="matrix(1.1421 0 0 1 327.41 764.67)" font-family="Liberation Serif" font-weight="normal" font-size="13.86" fill="#000" stroke="#000" stroke-width="0.25" vector-effect="non-scaling-stroke" stroke-linejoin="round">ini</text>
<path d="M346.5 762.3L358.4 741.4" stroke="#000" stroke-width="1.15" fill="none"/>
<text transform="matrix(0.7275 0 0 1 360.56 758.73)" font-family="Liberation Serif" font-weight="normal" font-size="23.44" fill="#000" stroke="#000" stroke-width="0.35" vector-effect="non-scaling-stroke" stroke-linejoin="round">M</text>
<circle cx="382.1" cy="760" r="4.5" fill="none" stroke="#000" stroke-width="1.2"/><circle cx="382.1" cy="760" r="1.2"/>
<text transform="matrix(0.7532 0 0 1 780.85 758.73)" font-family="Liberation Serif" font-weight="normal" font-size="23.44" fill="#000" stroke="#000" stroke-width="0.35" vector-effect="non-scaling-stroke" stroke-linejoin="round">M</text>
<text transform="matrix(1.1421 0 0 1 797.41 764.67)" font-family="Liberation Serif" font-weight="normal" font-size="13.86" fill="#000" stroke="#000" stroke-width="0.25" vector-effect="non-scaling-stroke" stroke-linejoin="round">ini</text>
<path d="M816.5 762.3L828.4 741.4" stroke="#000" stroke-width="1.15" fill="none"/>
<text transform="matrix(0.7275 0 0 1 830.56 758.73)" font-family="Liberation Serif" font-weight="normal" font-size="23.44" fill="#000" stroke="#000" stroke-width="0.35" vector-effect="non-scaling-stroke" stroke-linejoin="round">M</text>
<circle cx="852.1" cy="760" r="4.5" fill="none" stroke="#000" stroke-width="1.2"/><circle cx="852.1" cy="760" r="1.2"/>
<g transform="translate(52.5 661) rotate(-90) scale(1.0)">
<text transform="matrix(1.0000 0 0 1 -0.72 0.00)" font-family="Liberation Serif" font-weight="normal" font-size="23.90" fill="#000" letter-spacing="1.36">Lifetime</text>
<text transform="matrix(1.0039 0 0 1 103.09 0.21)" font-family="Liberation Serif" font-weight="normal" font-size="28.07" fill="#000">[</text>
<text transform="matrix(1.0000 0 0 1 115.15 0.00)" font-family="Liberation Serif" font-weight="normal" font-size="23.90" fill="#000" letter-spacing="-0.59">10</text>
<text transform="matrix(0.9992 0 0 1 139.44 -7.90)" font-family="Liberation Serif" font-weight="normal" font-size="14.60" fill="#000">6</text>
<text transform="matrix(1.0000 0 0 1 159.16 0.00)" font-family="Liberation Serif" font-weight="normal" font-size="23.90" fill="#000" letter-spacing="2.59">years</text>
<text transform="matrix(0.9183 0 0 1 221.70 0.21)" font-family="Liberation Serif" font-weight="normal" font-size="28.07" fill="#000">]</text>
</g>
<g transform="translate(43.7 350.9) rotate(-90) scale(1.137)">
<text transform="matrix(1.0000 0 0 1 -0.72 0.00)" font-family="Liberation Serif" font-weight="normal" font-size="23.90" fill="#000" letter-spacing="1.36">Lifetime</text>
<text transform="matrix(1.0039 0 0 1 103.09 0.21)" font-family="Liberation Serif" font-weight="normal" font-size="28.07" fill="#000">[</text>
<text transform="matrix(1.0000 0 0 1 115.15 0.00)" font-family="Liberation Serif" font-weight="normal" font-size="23.90" fill="#000" letter-spacing="-0.59">10</text>
<text transform="matrix(0.9992 0 0 1 139.44 -7.90)" font-family="Liberation Serif" font-weight="normal" font-size="14.60" fill="#000">6</text>
<text transform="matrix(1.0000 0 0 1 159.16 0.00)" font-family="Liberation Serif" font-weight="normal" font-size="23.90" fill="#000" letter-spacing="2.59">years</text>
<text transform="matrix(0.9183 0 0 1 221.70 0.21)" font-family="Liberation Serif" font-weight="normal" font-size="28.07" fill="#000">]</text>
</g>
<text transform="matrix(0.9640 0 0 1 149.61 110.00)" font-family="Liberation Serif" font-weight="normal" font-size="22.60" fill="#000" stroke="#000" stroke-width="1.00" vector-effect="non-scaling-stroke" stroke-linejoin="round">Z</text>
<text transform="matrix(0.9390 0 0 1 174.72 112.47)" font-family="Liberation Serif" font-weight="normal" font-size="28.40" fill="#000" stroke="#000" stroke-width="0.70" vector-effect="non-scaling-stroke" stroke-linejoin="round">=</text>
<text transform="matrix(0.9727 0 0 1 202.17 110.20)" font-family="Liberation Mono" font-weight="normal" font-size="22.72" fill="#000" stroke="#000" stroke-width="0.75" vector-effect="non-scaling-stroke" stroke-linejoin="round">O</text>
<circle cx="219.10" cy="108.90" r="1.9"/>
<text transform="matrix(0.9903 0 0 1 222.35 110.20)" font-family="Liberation Mono" font-weight="normal" font-size="22.72" fill="#000" stroke="#000" stroke-width="0.75" vector-effect="non-scaling-stroke" stroke-linejoin="round">O</text>
<text transform="matrix(0.9612 0 0 1 235.35 110.42)" font-family="Liberation Mono" font-weight="normal" font-size="23.41" fill="#000" stroke="#000" stroke-width="0.75" vector-effect="non-scaling-stroke" stroke-linejoin="round">4</text>
<text transform="matrix(0.9727 0 0 1 249.57 110.20)" font-family="Liberation Mono" font-weight="normal" font-size="22.72" fill="#000" stroke="#000" stroke-width="0.75" vector-effect="non-scaling-stroke" stroke-linejoin="round">O</text>
<text transform="matrix(0.9640 0 0 1 619.61 110.00)" font-family="Liberation Serif" font-weight="normal" font-size="22.60" fill="#000" stroke="#000" stroke-width="1.00" vector-effect="non-scaling-stroke" stroke-linejoin="round">Z</text>
<text transform="matrix(0.9390 0 0 1 644.72 112.47)" font-family="Liberation Serif" font-weight="normal" font-size="28.40" fill="#000" stroke="#000" stroke-width="0.70" vector-effect="non-scaling-stroke" stroke-linejoin="round">=</text>
<text transform="matrix(0.9727 0 0 1 672.17 110.20)" font-family="Liberation Mono" font-weight="normal" font-size="22.72" fill="#000" stroke="#000" stroke-width="0.75" vector-effect="non-scaling-stroke" stroke-linejoin="round">O</text>
<circle cx="689.10" cy="108.90" r="1.9"/>
<text transform="matrix(0.9903 0 0 1 692.35 110.20)" font-family="Liberation Mono" font-weight="normal" font-size="22.72" fill="#000" stroke="#000" stroke-width="0.75" vector-effect="non-scaling-stroke" stroke-linejoin="round">O</text>
<text transform="matrix(1.0606 0 0 1 704.76 110.42)" font-family="Liberation Mono" font-weight="normal" font-size="23.06" fill="#000" stroke="#000" stroke-width="0.75" vector-effect="non-scaling-stroke" stroke-linejoin="round">2</text>
<text transform="matrix(0.9727 0 0 1 719.57 110.20)" font-family="Liberation Mono" font-weight="normal" font-size="22.72" fill="#000" stroke="#000" stroke-width="0.75" vector-effect="non-scaling-stroke" stroke-linejoin="round">O</text>
<text transform="matrix(0.9640 0 0 1 149.61 436.00)" font-family="Liberation Serif" font-weight="normal" font-size="22.60" fill="#000" stroke="#000" stroke-width="1.00" vector-effect="non-scaling-stroke" stroke-linejoin="round">Z</text>
<text transform="matrix(0.9390 0 0 1 174.72 438.47)" font-family="Liberation Serif" font-weight="normal" font-size="28.40" fill="#000" stroke="#000" stroke-width="0.70" vector-effect="non-scaling-stroke" stroke-linejoin="round">=</text>
<text transform="matrix(0.9727 0 0 1 202.17 436.20)" font-family="Liberation Mono" font-weight="normal" font-size="22.72" fill="#000" stroke="#000" stroke-width="0.75" vector-effect="non-scaling-stroke" stroke-linejoin="round">O</text>
<circle cx="219.10" cy="434.90" r="1.9"/>
<text transform="matrix(0.9903 0 0 1 222.35 436.20)" font-family="Liberation Mono" font-weight="normal" font-size="22.72" fill="#000" stroke="#000" stroke-width="0.75" vector-effect="non-scaling-stroke" stroke-linejoin="round">O</text>
<text transform="matrix(0.9903 0 0 1 235.35 436.20)" font-family="Liberation Mono" font-weight="normal" font-size="22.72" fill="#000" stroke="#000" stroke-width="0.75" vector-effect="non-scaling-stroke" stroke-linejoin="round">O</text>
<text transform="matrix(1.0348 0 0 1 249.15 436.20)" font-family="Liberation Mono" font-weight="normal" font-size="22.72" fill="#000" stroke="#000" stroke-width="0.75" vector-effect="non-scaling-stroke" stroke-linejoin="round">8</text>
<text transform="matrix(0.9640 0 0 1 619.61 436.00)" font-family="Liberation Serif" font-weight="normal" font-size="22.60" fill="#000" stroke="#000" stroke-width="1.00" vector-effect="non-scaling-stroke" stroke-linejoin="round">Z</text>
<text transform="matrix(0.9390 0 0 1 644.72 438.47)" font-family="Liberation Serif" font-weight="normal" font-size="28.40" fill="#000" stroke="#000" stroke-width="0.70" vector-effect="non-scaling-stroke" stroke-linejoin="round">=</text>
<text transform="matrix(0.9727 0 0 1 672.17 436.20)" font-family="Liberation Mono" font-weight="normal" font-size="22.72" fill="#000" stroke="#000" stroke-width="0.75" vector-effect="non-scaling-stroke" stroke-linejoin="round">O</text>
<circle cx="689.10" cy="434.90" r="1.9"/>
<text transform="matrix(0.9903 0 0 1 692.35 436.20)" font-family="Liberation Mono" font-weight="normal" font-size="22.72" fill="#000" stroke="#000" stroke-width="0.75" vector-effect="non-scaling-stroke" stroke-linejoin="round">O</text>
<text transform="matrix(0.9903 0 0 1 705.35 436.20)" font-family="Liberation Mono" font-weight="normal" font-size="22.72" fill="#000" stroke="#000" stroke-width="0.75" vector-effect="non-scaling-stroke" stroke-linejoin="round">O</text>
<text transform="matrix(0.9441 0 0 1 719.57 436.43)" font-family="Liberation Mono" font-weight="normal" font-size="23.41" fill="#000" stroke="#000" stroke-width="0.75" vector-effect="non-scaling-stroke" stroke-linejoin="round">4</text>
<text transform="matrix(0.6362 0 0 1 402.50 131.97)" font-family="Liberation Serif" font-weight="normal" font-size="22.24" fill="#000" stroke="#000" stroke-width="1.00" vector-effect="non-scaling-stroke" stroke-linejoin="round">W</text>
<text transform="matrix(0.9479 0 0 1 417.12 132.37)" font-family="Liberation Serif" font-weight="normal" font-size="23.13" fill="#000" stroke="#000" stroke-width="1.00" vector-effect="non-scaling-stroke" stroke-linejoin="round">C</text>
<text transform="matrix(1.2140 0 0 1 303.00 169.37)" font-family="Liberation Serif" font-weight="normal" font-size="22.71" fill="#000" stroke="#000" stroke-width="1.00" vector-effect="non-scaling-stroke" stroke-linejoin="round">e</text>
<text transform="matrix(0.6888 0 0 1 316.50 168.97)" font-family="Liberation Serif" font-weight="normal" font-size="22.24" fill="#000" stroke="#000" stroke-width="1.00" vector-effect="non-scaling-stroke" stroke-linejoin="round">W</text>
<text transform="matrix(0.9186 0 0 1 332.07 169.30)" font-family="Liberation Serif" font-weight="normal" font-size="22.75" fill="#000" stroke="#000" stroke-width="1.00" vector-effect="non-scaling-stroke" stroke-linejoin="round">N</text>
<text transform="matrix(0.9953 0 0 1 348.02 169.30)" font-family="Liberation Serif" font-weight="normal" font-size="22.75" fill="#000" stroke="#000" stroke-width="1.00" vector-effect="non-scaling-stroke" stroke-linejoin="round">E</text>
<text transform="matrix(1.2140 0 0 1 388.10 272.87)" font-family="Liberation Serif" font-weight="normal" font-size="22.71" fill="#000" stroke="#000" stroke-width="1.00" vector-effect="non-scaling-stroke" stroke-linejoin="round">e</text>
<text transform="matrix(0.6843 0 0 1 401.60 272.46)" font-family="Liberation Serif" font-weight="normal" font-size="22.39" fill="#000" stroke="#000" stroke-width="1.00" vector-effect="non-scaling-stroke" stroke-linejoin="round">W</text>
<text transform="matrix(0.9124 0 0 1 417.17 272.80)" font-family="Liberation Serif" font-weight="normal" font-size="22.90" fill="#000" stroke="#000" stroke-width="1.00" vector-effect="non-scaling-stroke" stroke-linejoin="round">N</text>
<text transform="matrix(0.8985 0 0 1 433.18 272.80)" font-family="Liberation Serif" font-weight="normal" font-size="22.90" fill="#000" stroke="#000" stroke-width="1.00" vector-effect="non-scaling-stroke" stroke-linejoin="round">L</text>
<text transform="matrix(0.6234 0 0 1 914.40 198.07)" font-family="Liberation Serif" font-weight="normal" font-size="21.94" fill="#000" stroke="#000" stroke-width="1.00" vector-effect="non-scaling-stroke" stroke-linejoin="round">W</text>
<text transform="matrix(0.9281 0 0 1 928.57 198.47)" font-family="Liberation Serif" font-weight="normal" font-size="22.84" fill="#000" stroke="#000" stroke-width="1.00" vector-effect="non-scaling-stroke" stroke-linejoin="round">C</text>
<text transform="matrix(1.2001 0 0 1 869.61 225.47)" font-family="Liberation Serif" font-weight="normal" font-size="22.71" fill="#000" stroke="#000" stroke-width="1.00" vector-effect="non-scaling-stroke" stroke-linejoin="round">e</text>
<text transform="matrix(0.6904 0 0 1 882.97 225.07)" font-family="Liberation Serif" font-weight="normal" font-size="21.94" fill="#000" stroke="#000" stroke-width="1.00" vector-effect="non-scaling-stroke" stroke-linejoin="round">W</text>
<text transform="matrix(0.9207 0 0 1 898.38 225.40)" font-family="Liberation Serif" font-weight="normal" font-size="22.44" fill="#000" stroke="#000" stroke-width="1.00" vector-effect="non-scaling-stroke" stroke-linejoin="round">N</text>
<text transform="matrix(0.9975 0 0 1 914.16 225.40)" font-family="Liberation Serif" font-weight="normal" font-size="22.44" fill="#000" stroke="#000" stroke-width="1.00" vector-effect="non-scaling-stroke" stroke-linejoin="round">E</text>
<text transform="matrix(1.2258 0 0 1 899.49 317.37)" font-family="Liberation Serif" font-weight="normal" font-size="22.71" fill="#000" stroke="#000" stroke-width="1.00" vector-effect="non-scaling-stroke" stroke-linejoin="round">e</text>
<text transform="matrix(0.7001 0 0 1 913.11 316.97)" font-family="Liberation Serif" font-weight="normal" font-size="22.09" fill="#000" stroke="#000" stroke-width="1.00" vector-effect="non-scaling-stroke" stroke-linejoin="round">W</text>
<text transform="matrix(0.9336 0 0 1 928.82 317.30)" font-family="Liberation Serif" font-weight="normal" font-size="22.60" fill="#000" stroke="#000" stroke-width="1.00" vector-effect="non-scaling-stroke" stroke-linejoin="round">N</text>
<text transform="matrix(0.9195 0 0 1 944.97 317.30)" font-family="Liberation Serif" font-weight="normal" font-size="22.60" fill="#000" stroke="#000" stroke-width="1.00" vector-effect="non-scaling-stroke" stroke-linejoin="round">L</text>
<text transform="matrix(0.6114 0 0 1 361.60 634.87)" font-family="Liberation Serif" font-weight="normal" font-size="21.94" fill="#000" stroke="#000" stroke-width="1.00" vector-effect="non-scaling-stroke" stroke-linejoin="round">W</text>
<text transform="matrix(0.9103 0 0 1 375.52 635.27)" font-family="Liberation Serif" font-weight="normal" font-size="22.84" fill="#000" stroke="#000" stroke-width="1.00" vector-effect="non-scaling-stroke" stroke-linejoin="round">C</text>
<text transform="matrix(1.2116 0 0 1 346.00 679.97)" font-family="Liberation Serif" font-weight="normal" font-size="22.71" fill="#000" stroke="#000" stroke-width="1.00" vector-effect="non-scaling-stroke" stroke-linejoin="round">e</text>
<text transform="matrix(0.6969 0 0 1 359.48 679.57)" font-family="Liberation Serif" font-weight="normal" font-size="21.94" fill="#000" stroke="#000" stroke-width="1.00" vector-effect="non-scaling-stroke" stroke-linejoin="round">W</text>
<text transform="matrix(0.9293 0 0 1 375.02 679.90)" font-family="Liberation Serif" font-weight="normal" font-size="22.44" fill="#000" stroke="#000" stroke-width="1.00" vector-effect="non-scaling-stroke" stroke-linejoin="round">N</text>
<text transform="matrix(0.9151 0 0 1 391.00 679.90)" font-family="Liberation Serif" font-weight="normal" font-size="22.44" fill="#000" stroke="#000" stroke-width="1.00" vector-effect="non-scaling-stroke" stroke-linejoin="round">L</text>
<text transform="matrix(0.6114 0 0 1 852.10 642.37)" font-family="Liberation Serif" font-weight="normal" font-size="21.94" fill="#000" stroke="#000" stroke-width="1.00" vector-effect="non-scaling-stroke" stroke-linejoin="round">W</text>
<text transform="matrix(0.9103 0 0 1 866.02 642.77)" font-family="Liberation Serif" font-weight="normal" font-size="22.84" fill="#000" stroke="#000" stroke-width="1.00" vector-effect="non-scaling-stroke" stroke-linejoin="round">C</text>
<text transform="matrix(1.2235 0 0 1 836.99 694.87)" font-family="Liberation Serif" font-weight="normal" font-size="22.71" fill="#000" stroke="#000" stroke-width="1.00" vector-effect="non-scaling-stroke" stroke-linejoin="round">e</text>
<text transform="matrix(0.6941 0 0 1 850.59 694.47)" font-family="Liberation Serif" font-weight="normal" font-size="22.24" fill="#000" stroke="#000" stroke-width="1.00" vector-effect="non-scaling-stroke" stroke-linejoin="round">W</text>
<text transform="matrix(0.9256 0 0 1 866.27 694.80)" font-family="Liberation Serif" font-weight="normal" font-size="22.75" fill="#000" stroke="#000" stroke-width="1.00" vector-effect="non-scaling-stroke" stroke-linejoin="round">N</text>
<text transform="matrix(0.9116 0 0 1 882.39 694.80)" font-family="Liberation Serif" font-weight="normal" font-size="22.75" fill="#000" stroke="#000" stroke-width="1.00" vector-effect="non-scaling-stroke" stroke-linejoin="round">L</text>
</g>
</svg>
</body></html>
